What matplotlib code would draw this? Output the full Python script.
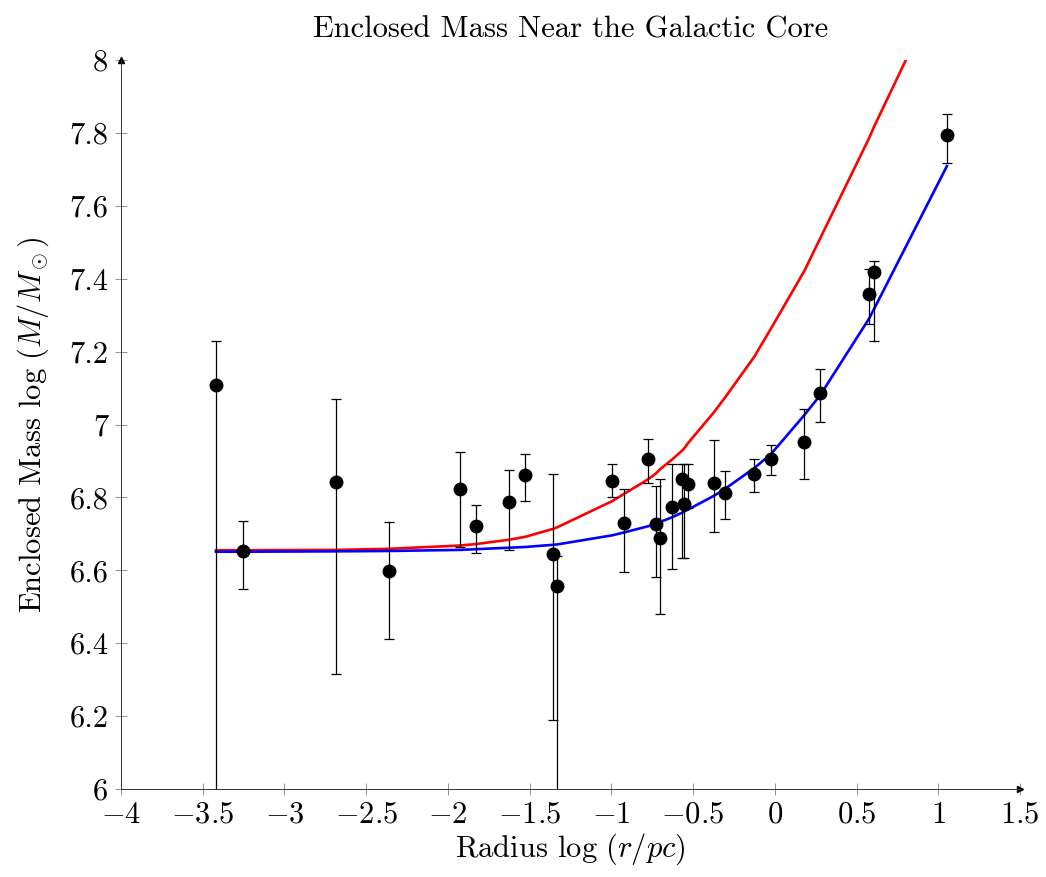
import matplotlib
matplotlib.use("Agg")
import matplotlib.pyplot as plt
import numpy as np

plt.rcParams['font.family'] = 'serif'
plt.rcParams['font.serif'] = ['cmr10']
plt.rcParams['mathtext.fontset'] = 'cm'
plt.rcParams['axes.formatter.use_mathtext'] = True

# ---- data ----
log_r = [-3.419, -3.254, -2.685, -2.360, -1.926, -1.828, -1.624, -1.526, -1.355, -1.331,
         -0.994, -0.921, -0.774, -0.727, -0.700, -0.631, -0.568, -0.557, -0.529, -0.370,
         -0.303, -0.127, -0.025, 0.179, 0.277, 0.576, 0.605, 1.053]
log_m = [7.108, 6.653, 6.842, 6.599, 6.824, 6.722, 6.787, 6.861, 6.644, 6.558,
         6.846, 6.730, 6.906, 6.726, 6.689, 6.775, 6.850, 6.782, 6.836, 6.839,
         6.813, 6.865, 6.905, 6.951, 7.086, 7.359, 7.418, 7.793]
err_hi = [7.229, 6.735, 7.070, 6.733, 6.925, 6.778, 6.876, 6.920, 6.865, 6.640,
          6.891, 6.823, 6.961, 6.831, 6.850, 6.891, 6.891, 6.891, 6.891, 6.957,
          6.872, 6.905, 6.943, 7.043, 7.153, 7.426, 7.449, 7.852]
err_lo = [5.500, 6.549, 6.316, 6.412, 6.665, 6.648, 6.656, 6.790, 6.190, 5.500,
          6.801, 6.595, 6.839, 6.581, 6.479, 6.603, 6.634, 6.634, 6.771, 6.704,
          6.742, 6.816, 6.861, 6.850, 7.008, 7.277, 7.228, 7.718]

blue_fit = [6.651, 6.651, 6.652, 6.653, 6.656, 6.658, 6.662, 6.664, 6.670, 6.671,
            6.696, 6.704, 6.721, 6.728, 6.733, 6.745, 6.758, 6.761, 6.767, 6.805,
            6.824, 6.880, 6.918, 7.025, 7.080, 7.290, 7.315, 7.709]
red_fit = [6.655, 6.655, 6.656, 6.659, 6.668, 6.672, 6.684, 6.692, 6.714, 6.718,
           6.790, 6.810, 6.850, 6.866, 6.878, 6.903, 6.928, 6.933, 6.950, 7.035,
           7.075, 7.185, 7.262, 7.420, 7.510, 7.785, 7.815, 8.236]

x_ticks = [-4, -3.5, -3, -2.5, -2, -1.5, -1, -0.5, 0, 0.5, 1, 1.5]
x_labels = [r'$-4$', r'$-3.5$', r'$-3$', r'$-2.5$', r'$-2$', r'$-1.5$', r'$-1$',
            r'$-0.5$', r'$0$', r'$0.5$', r'$1$', r'$1.5$']
y_ticks = [6, 6.2, 6.4, 6.6, 6.8, 7, 7.2, 7.4, 7.6, 7.8, 8]
y_labels = ['6', '6.2', '6.4', '6.6', '6.8', '7', '7.2', '7.4', '7.6', '7.8', '8']

FS = 22

# ---- figure ----
fig = plt.figure(figsize=(10.46, 8.77), dpi=100)
ax = fig.add_axes([121/1046, 1 - 789/877, (1020-121)/1046, (789-60)/877])

x = np.array(log_r)
y = np.array(log_m)
yerr = np.array([y - np.array(err_lo), np.array(err_hi) - y])

ax.plot(log_r, red_fit, color='#ff0000', lw=1.9, zorder=2, clip_on=True)
ax.plot(log_r, blue_fit, color='#0000ff', lw=1.9, zorder=2, clip_on=True)
ax.errorbar(x, y, yerr=yerr, fmt='o', color='black', ms=9, ecolor='black',
            elinewidth=0.9, capsize=3.5, capthick=0.9, zorder=3)

ax.set_xlim(-4, 1.5)
ax.set_ylim(6, 8)
ax.set_xticks(x_ticks)
ax.set_xticklabels(x_labels)
ax.set_yticks(y_ticks)
ax.set_yticklabels(y_labels)

for s in ['top', 'right']:
    ax.spines[s].set_visible(False)
for s in ['left', 'bottom']:
    ax.spines[s].set_color('#333333')
    ax.spines[s].set_linewidth(0.7)

ax.tick_params(direction='inout', length=8, width=0.7, color='#909090',
               labelsize=FS, pad=5)

# arrow heads at ends of axes
ax.plot(1, 0, '>', color='black', ms=5, transform=ax.transAxes, clip_on=False)
ax.plot(0, 1, '^', color='black', ms=5, transform=ax.transAxes, clip_on=False)

ax.set_title('Enclosed Mass Near the Galactic Core', fontsize=FS, pad=16)
ax.set_xlabel(r'Radius $\log\,(r/pc)$', fontsize=FS, labelpad=2)
ax.set_ylabel(r'Enclosed Mass $\log\,(M/M_\odot)$', fontsize=FS, labelpad=13)

fig.savefig('out.png', dpi=100)
